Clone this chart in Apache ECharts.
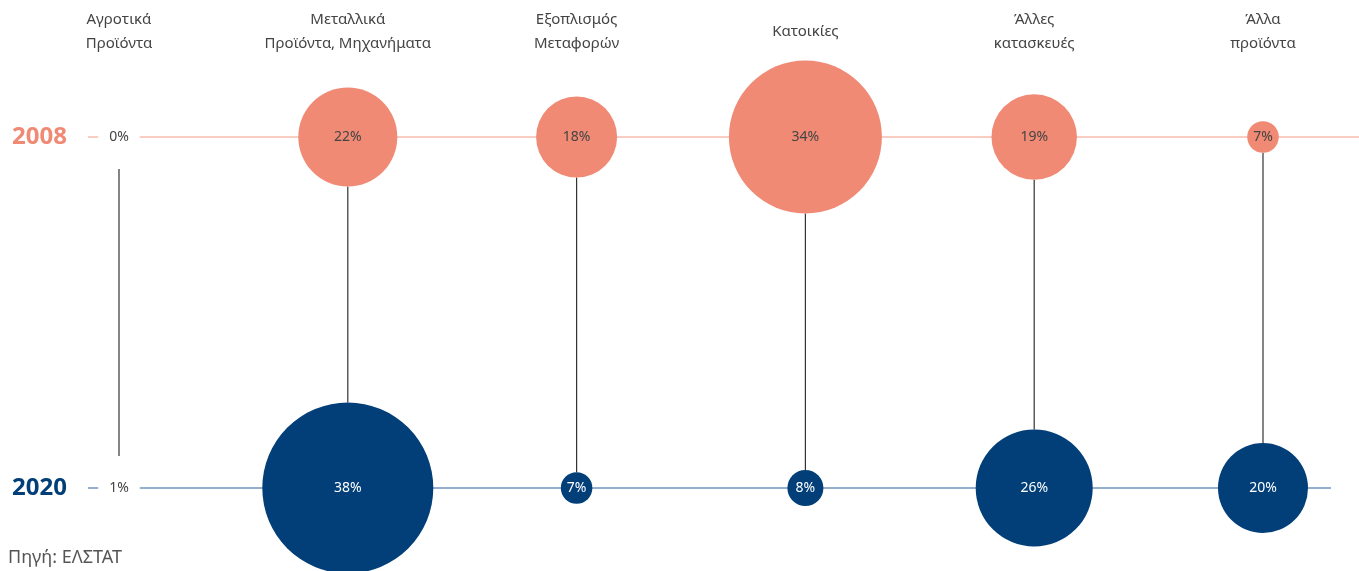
<!DOCTYPE html>
<html>
<head>
<meta charset="utf-8">
<script src="https://cdn.jsdelivr.net/npm/echarts@6/dist/echarts.min.js"></script>
<style>
  html, body { margin: 0; padding: 0; background: #fff; }
  #chart { width: 1359px; height: 571px; }
</style>
</head>
<body>
<div id="chart"></div>
<script>
  // data
  const categories = ['Αγροτικά\nΠροϊόντα', 'Μεταλλικά\nΠροϊόντα, Μηχανήματα', 'Εξοπλισμός\nΜεταφορών', 'Κατοικίες', 'Άλλες\nκατασκευές', 'Άλλα\nπροϊόντα']
  const years = ['2020', '2008']
  const share2008 = [0, 22, 18, 34, 19, 7]
  const share2020 = [1, 38, 7, 8, 26, 20]

  const SCALE = 4.5
  const FONT = 'Noto Sans'
  const colors = { '2008': '#f08a75', '2020': '#023f78' }
  const lineColors = { '2008': '#f7bcae', '2020': '#7093bd' }

  const myChart = echarts.init(document.getElementById('chart'))

  // radius of a bubble, or room for the boxed label when the bubble is too small to see
  function gap (v) {
    const r = v * SCALE / 2
    return r < 5 ? 32 : r
  }

  function bubbleSeries (year, values, labelColor, lineEnd) {
    return {
      name: year,
      type: 'scatter',
      z: 3,
      data: values.map((v, i) => [i, year, v]),
      symbolSize: function (val) { return val[2] * SCALE },
      itemStyle: { color: colors[year], opacity: 1 },
      label: {
        show: true,
        position: 'inside',
        fontFamily: FONT,
        fontSize: 14,
        color: labelColor,
        formatter: function (p) {
          return p.value[2] + '%'
        }
      },
      emphasis: { disabled: true },
      markLine: {
        silent: true,
        z: 1,
        symbol: ['none', 'none'],
        label: { show: false },
        lineStyle: { color: lineColors[year], width: 1.5, type: 'solid' },
        data: [[{ x: 88, yAxis: year }, { x: lineEnd, yAxis: year }]]
      }
    }
  }

  const s2008 = bubbleSeries('2008', share2008, '#444', 1359)
  const s2020 = bubbleSeries('2020', share2020, '#fff', 1331)
  // first category has no visible bubble: label sits on a white box
  s2008.data[0] = { value: [0, '2008', share2008[0]], label: { color: '#444', backgroundColor: '#fff', padding: [3, 11] } }
  s2020.data[0] = { value: [0, '2020', share2020[0]], label: { color: '#444', backgroundColor: '#fff', padding: [3, 11] } }

  const option = {
    animation: false,
    title: {
      text: 'Πηγή: ΕΛΣΤΑΤ',
      left: 3,
      bottom: -1,
      textStyle: { fontFamily: FONT, fontSize: 18, fontWeight: 'normal', color: '#555' }
    },
    grid: {
      left: 119,
      right: 96,
      top: 137,
      bottom: 83,
      containLabel: false,
      outerBoundsMode: 'none'
    },
    xAxis: {
      type: 'category',
      position: 'top',
      boundaryGap: false,
      data: categories,
      axisLine: { show: false },
      axisTick: { show: false },
      splitLine: { show: false },
      axisLabel: {
        interval: 0,
        margin: 105,
        verticalAlign: 'middle',
        fontFamily: FONT,
        fontSize: 15,
        lineHeight: 24,
        color: '#444'
      }
    },
    yAxis: {
      type: 'category',
      boundaryGap: false,
      data: years,
      axisLine: { show: false },
      axisTick: { show: false },
      splitLine: { show: false },
      axisLabel: {
        margin: 52,
        fontFamily: FONT,
        fontSize: 24,
        fontWeight: 'bold',
        color: function (value) { return colors[value] }
      }
    },
    series: [
      {
        type: 'custom',
        z: 1,
        silent: true,
        data: categories.map((c, i) => [i, 1, share2008[i], share2020[i]]),
        encode: { x: 0, y: 1 },
        renderItem: function (params, api) {
          const i = api.value(0)
          const top = api.coord([i, 1])
          const bottom = api.coord([i, 0])
          return {
            type: 'line',
            shape: { x1: top[0], y1: top[1] + gap(api.value(2)), x2: bottom[0], y2: bottom[1] - gap(api.value(3)) },
            style: { stroke: '#333', lineWidth: 1.2 }
          }
        }
      },
      s2008,
      s2020
    ]
  }
  myChart.setOption(option)
</script>
</body>
</html>
